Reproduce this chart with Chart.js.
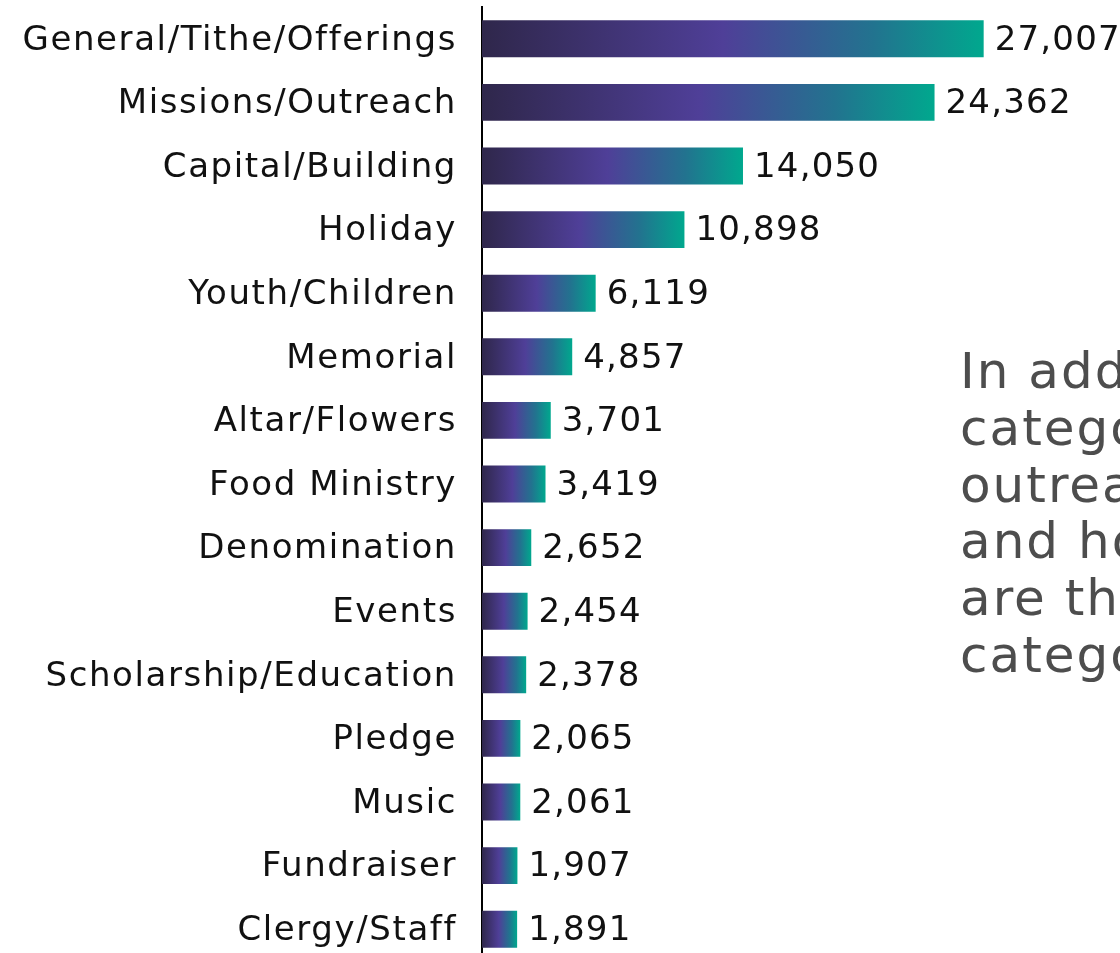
<!DOCTYPE html>
<html>
<head>
<meta charset="utf-8">
<script src="https://cdn.jsdelivr.net/npm/chart.js@4.4.1/dist/chart.umd.min.js"></script>
<style>
  html, body { margin: 0; padding: 0; background: #ffffff; overflow: hidden; }
  #wrap { width: 1120px; height: 953px; overflow: hidden; }
  canvas { display: block; }
</style>
</head>
<body>
<div id="wrap"><canvas id="chart" width="1120" height="961"></canvas></div>
<script>
// Giving categories and how many gifts each one received
const categories = [
  'General/Tithe/Offerings', 'Missions/Outreach', 'Capital/Building', 'Holiday',
  'Youth/Children', 'Memorial', 'Altar/Flowers', 'Food Ministry', 'Denomination',
  'Events', 'Scholarship/Education', 'Pledge', 'Music', 'Fundraiser', 'Clergy/Staff'
];
const giftCounts = [
  27007, 24362, 14050, 10898, 6119, 4857, 3701, 3419, 2652,
  2454, 2378, 2065, 2061, 1907, 1891
];
const noteLines = [
  'In addition to the general',
  'category, missions/',
  'outreach, capital/building',
  'and holiday giving',
  'are the most popular',
  'categories.'
];

const FONT = '"DejaVu Sans", sans-serif';
const AXIS_LEFT = 482;

// Each bar gets its own left-to-right gradient: navy -> violet -> teal
function barGradient(context) {
  const chart = context.chart;
  const xs = chart.scales.x;
  if (!xs || context.dataIndex === undefined) return '#4e3f97';
  const v = context.dataset.data[context.dataIndex];
  const x0 = xs.getPixelForValue(0);
  const x1 = xs.getPixelForValue(v);
  if (!isFinite(x0) || !isFinite(x1) || x1 <= x0) return '#4e3f97';
  const g = chart.ctx.createLinearGradient(x0, 0, x1, 0);
  g.addColorStop(0, '#2f274b');
  g.addColorStop(0.48, '#4f3f98');
  g.addColorStop(0.78, '#22738f');
  g.addColorStop(1, '#00a88e');
  return g;
}

// slightly wider tracking for all canvas text
const tracking = {
  id: 'tracking',
  beforeDraw(chart) { chart.ctx.letterSpacing = '1.6px'; }
};

const valueLabels = {
  id: 'valueLabels',
  afterDatasetsDraw(chart) {
    const ctx = chart.ctx;
    const meta = chart.getDatasetMeta(0);
    ctx.save();
    ctx.letterSpacing = '1.2px';
    ctx.font = '34px ' + FONT;
    ctx.fillStyle = '#111111';
    ctx.textAlign = 'left';
    ctx.textBaseline = 'middle';
    meta.data.forEach((bar, i) => {
      ctx.fillText(giftCounts[i].toLocaleString('en-US'), bar.x + 11, bar.y + 2);
    });
    ctx.restore();
  }
};

const sideNote = {
  id: 'sideNote',
  afterDraw(chart) {
    const ctx = chart.ctx;
    ctx.save();
    ctx.letterSpacing = '2px';
    ctx.font = '50px ' + FONT;
    ctx.fillStyle = '#4d4d4d';
    ctx.textAlign = 'left';
    ctx.textBaseline = 'alphabetic';
    noteLines.forEach((line, i) => {
      ctx.fillText(line, 960, 388 + i * 56.8);
    });
    ctx.restore();
  }
};

const chart = new Chart(document.getElementById('chart'), {
  type: 'bar',
  data: {
    labels: categories,
    datasets: [{
      data: giftCounts,
      backgroundColor: barGradient,
      borderWidth: 0,
      barPercentage: 0.58,
      categoryPercentage: 1.0
    }]
  },
  options: {
    indexAxis: 'y',
    responsive: false,
    animation: false,
    layout: { padding: { top: 7, right: 25, bottom: 0, left: 0 } },
    plugins: { legend: { display: false }, tooltip: { enabled: false } },
    scales: {
      x: {
        display: false,
        min: 0,
        max: 33000
      },
      y: {
        afterFit(scale) {
          scale.width = AXIS_LEFT;
          scale.paddingTop = 0;
          scale.paddingBottom = 0;
        },
        grid: { display: false, drawTicks: false },
        border: { display: true, color: '#000000', width: 2 },
        ticks: {
          padding: 25,
          labelOffset: 2,
          color: '#111111',
          font: { family: FONT, size: 34 }
        }
      }
    }
  },
  plugins: [tracking, valueLabels, sideNote]
});
// second pass so the gradients are built against laid-out scales
chart.update();
</script>
</body>
</html>
